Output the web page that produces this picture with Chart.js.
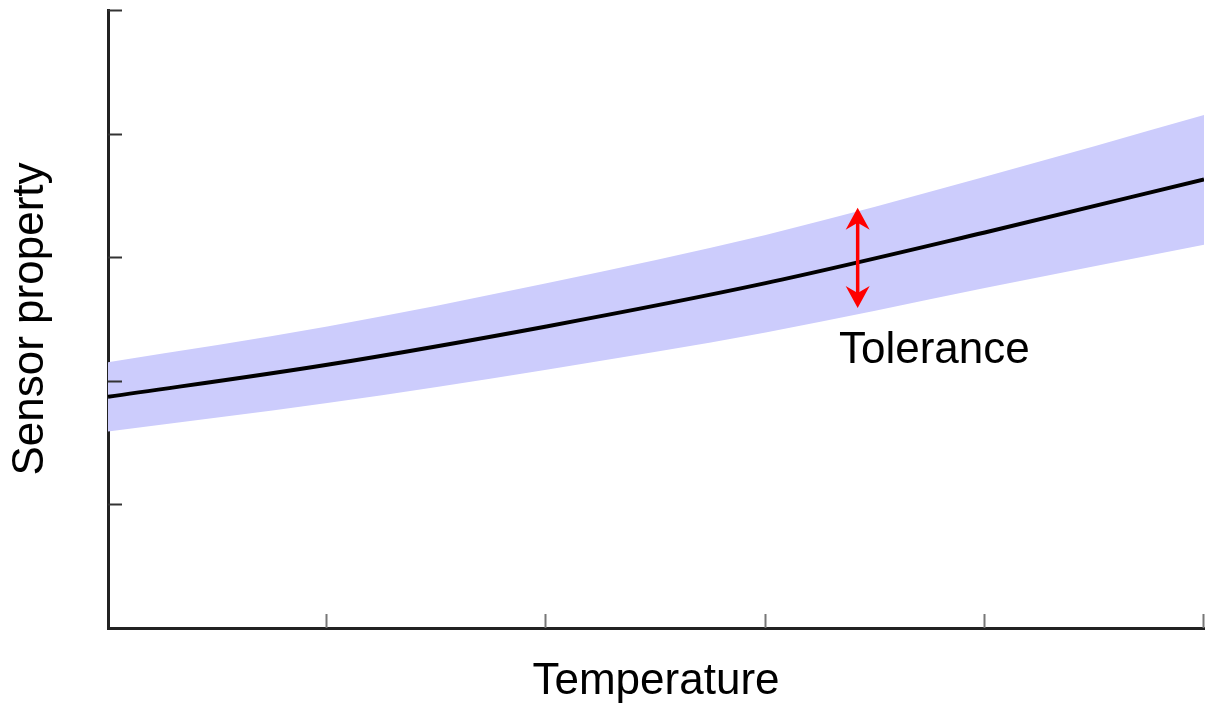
<!DOCTYPE html>
<html>
<head>
<meta charset="utf-8">
<title>Sensor property vs Temperature</title>
<script src="https://cdn.jsdelivr.net/npm/chart.js@4/dist/chart.umd.min.js"></script>
<style>
    html, body { margin: 0; padding: 0; background: #fff; }
    #wrap { width: 1206px; height: 704px; position: relative; }
</style>
</head>
<body>
<div id="wrap"><canvas id="sensor"></canvas></div>
<script>
// values (axis units, 0..5 on both axes)
var temps = [0, 1, 2, 3, 4, 5];
var nominal = [1.87, 2.13, 2.44, 2.79, 3.20, 3.63];
var upperLimit = [2.15, 2.44, 2.79, 3.18, 3.65, 4.15];
var lowerLimit = [1.59, 1.82, 2.09, 2.39, 2.75, 3.10];

var xTicks = [1, 2, 3, 4, 5];
var yTicks = [1, 2, 3, 4, 5];

// tolerance arrow + its label
var arrowX = [3.42];
var arrowY = [3.40, 2.59];
var labelPos = [3.77, 2.24];
var labelText = "Tolerance";

var fontFamily = "Arial, 'Liberation Sans', sans-serif";

function pts(ys) {
    return temps.map(function(t, i) { return {x: t, y: ys[i]}; });
}

// inward ticks, arrow and text
var extras = {
    id: 'extras',
    afterDatasetsDraw: function(chart) {
        var ctx = chart.ctx;
        var xs = chart.scales.x, ys = chart.scales.y;
        var area = chart.chartArea;

        ctx.save();
        // y ticks point right
        ctx.strokeStyle = '#333';
        ctx.lineWidth = 2;
        yTicks.forEach(function(v) {
            var py = Math.round(ys.getPixelForValue(v)) + 0.5;
            ctx.beginPath();
            ctx.moveTo(area.left, py);
            ctx.lineTo(area.left + 14, py);
            ctx.stroke();
        });
        // x ticks point up
        ctx.strokeStyle = '#777';
        xTicks.forEach(function(v) {
            var px = Math.round(xs.getPixelForValue(v)) - 0.5;
            ctx.beginPath();
            ctx.moveTo(px, area.bottom);
            ctx.lineTo(px, area.bottom - 14);
            ctx.stroke();
        });

        // double headed arrow
        var ax = xs.getPixelForValue(arrowX[0]);
        var top = ys.getPixelForValue(arrowY[0]);
        var bot = ys.getPixelForValue(arrowY[1]);
        var hl = 22, hw = 12;
        ctx.strokeStyle = '#ff0000';
        ctx.fillStyle = '#ff0000';
        ctx.lineWidth = 3.5;
        ctx.beginPath();
        ctx.moveTo(ax, top + 10);
        ctx.lineTo(ax, bot - 10);
        ctx.stroke();
        ctx.beginPath();
        ctx.moveTo(ax, top);
        ctx.lineTo(ax + hw, top + hl);
        ctx.lineTo(ax, top + hl - 7);
        ctx.lineTo(ax - hw, top + hl);
        ctx.closePath();
        ctx.fill();
        ctx.beginPath();
        ctx.moveTo(ax, bot);
        ctx.lineTo(ax + hw, bot - hl);
        ctx.lineTo(ax, bot - hl + 7);
        ctx.lineTo(ax - hw, bot - hl);
        ctx.closePath();
        ctx.fill();

        // label
        ctx.fillStyle = '#000';
        ctx.font = '44px ' + fontFamily;
        ctx.textAlign = 'center';
        ctx.textBaseline = 'middle';
        ctx.fillText(labelText, xs.getPixelForValue(labelPos[0]), ys.getPixelForValue(labelPos[1]));
        ctx.restore();
    }
};

new Chart(document.getElementById('sensor').getContext('2d'), {
    type: 'line',
    data: {
        datasets: [
            {
                label: 'nominal',
                data: pts(nominal),
                borderColor: '#000',
                borderWidth: 4,
                pointRadius: 0,
                fill: false,
                cubicInterpolationMode: 'monotone'
            },
            {
                label: 'upper',
                data: pts(upperLimit),
                borderWidth: 0,
                borderColor: 'rgba(0,0,0,0)',
                backgroundColor: 'rgb(204, 204, 252)',
                pointRadius: 0,
                fill: '+1',
                cubicInterpolationMode: 'monotone'
            },
            {
                label: 'lower',
                data: pts(lowerLimit),
                borderWidth: 0,
                borderColor: 'rgba(0,0,0,0)',
                pointRadius: 0,
                fill: false,
                cubicInterpolationMode: 'monotone'
            }
        ]
    },
    options: {
        responsive: true,
        maintainAspectRatio: false,
        animation: false,
        devicePixelRatio: 1,
        layout: { padding: { top: 10, right: 2, left: 0, bottom: 0 } },
        plugins: {
            legend: { display: false },
            tooltip: { enabled: false }
        },
        scales: {
            x: {
                type: 'linear',
                min: 0,
                max: 5,
                grid: { display: false },
                ticks: { display: false },
                border: { display: true, color: '#222', width: 3 },
                title: {
                    display: true,
                    text: 'Temperature',
                    color: '#000',
                    font: { family: fontFamily, size: 44, lineHeight: 1.0 },
                    padding: 0
                },
                afterFit: function(s) { s.height = 76; }
            },
            y: {
                min: 0,
                max: 5,
                grid: { display: false },
                ticks: { display: false },
                border: { display: true, color: '#222', width: 3 },
                title: {
                    display: true,
                    text: 'Sensor property',
                    color: '#000',
                    font: { family: fontFamily, size: 44, lineHeight: 1.0 },
                    padding: { top: 9, bottom: 0 }
                },
                afterFit: function(s) { s.width = 108; }
            }
        }
    },
    plugins: [extras]
});
</script>
</body>
</html>
